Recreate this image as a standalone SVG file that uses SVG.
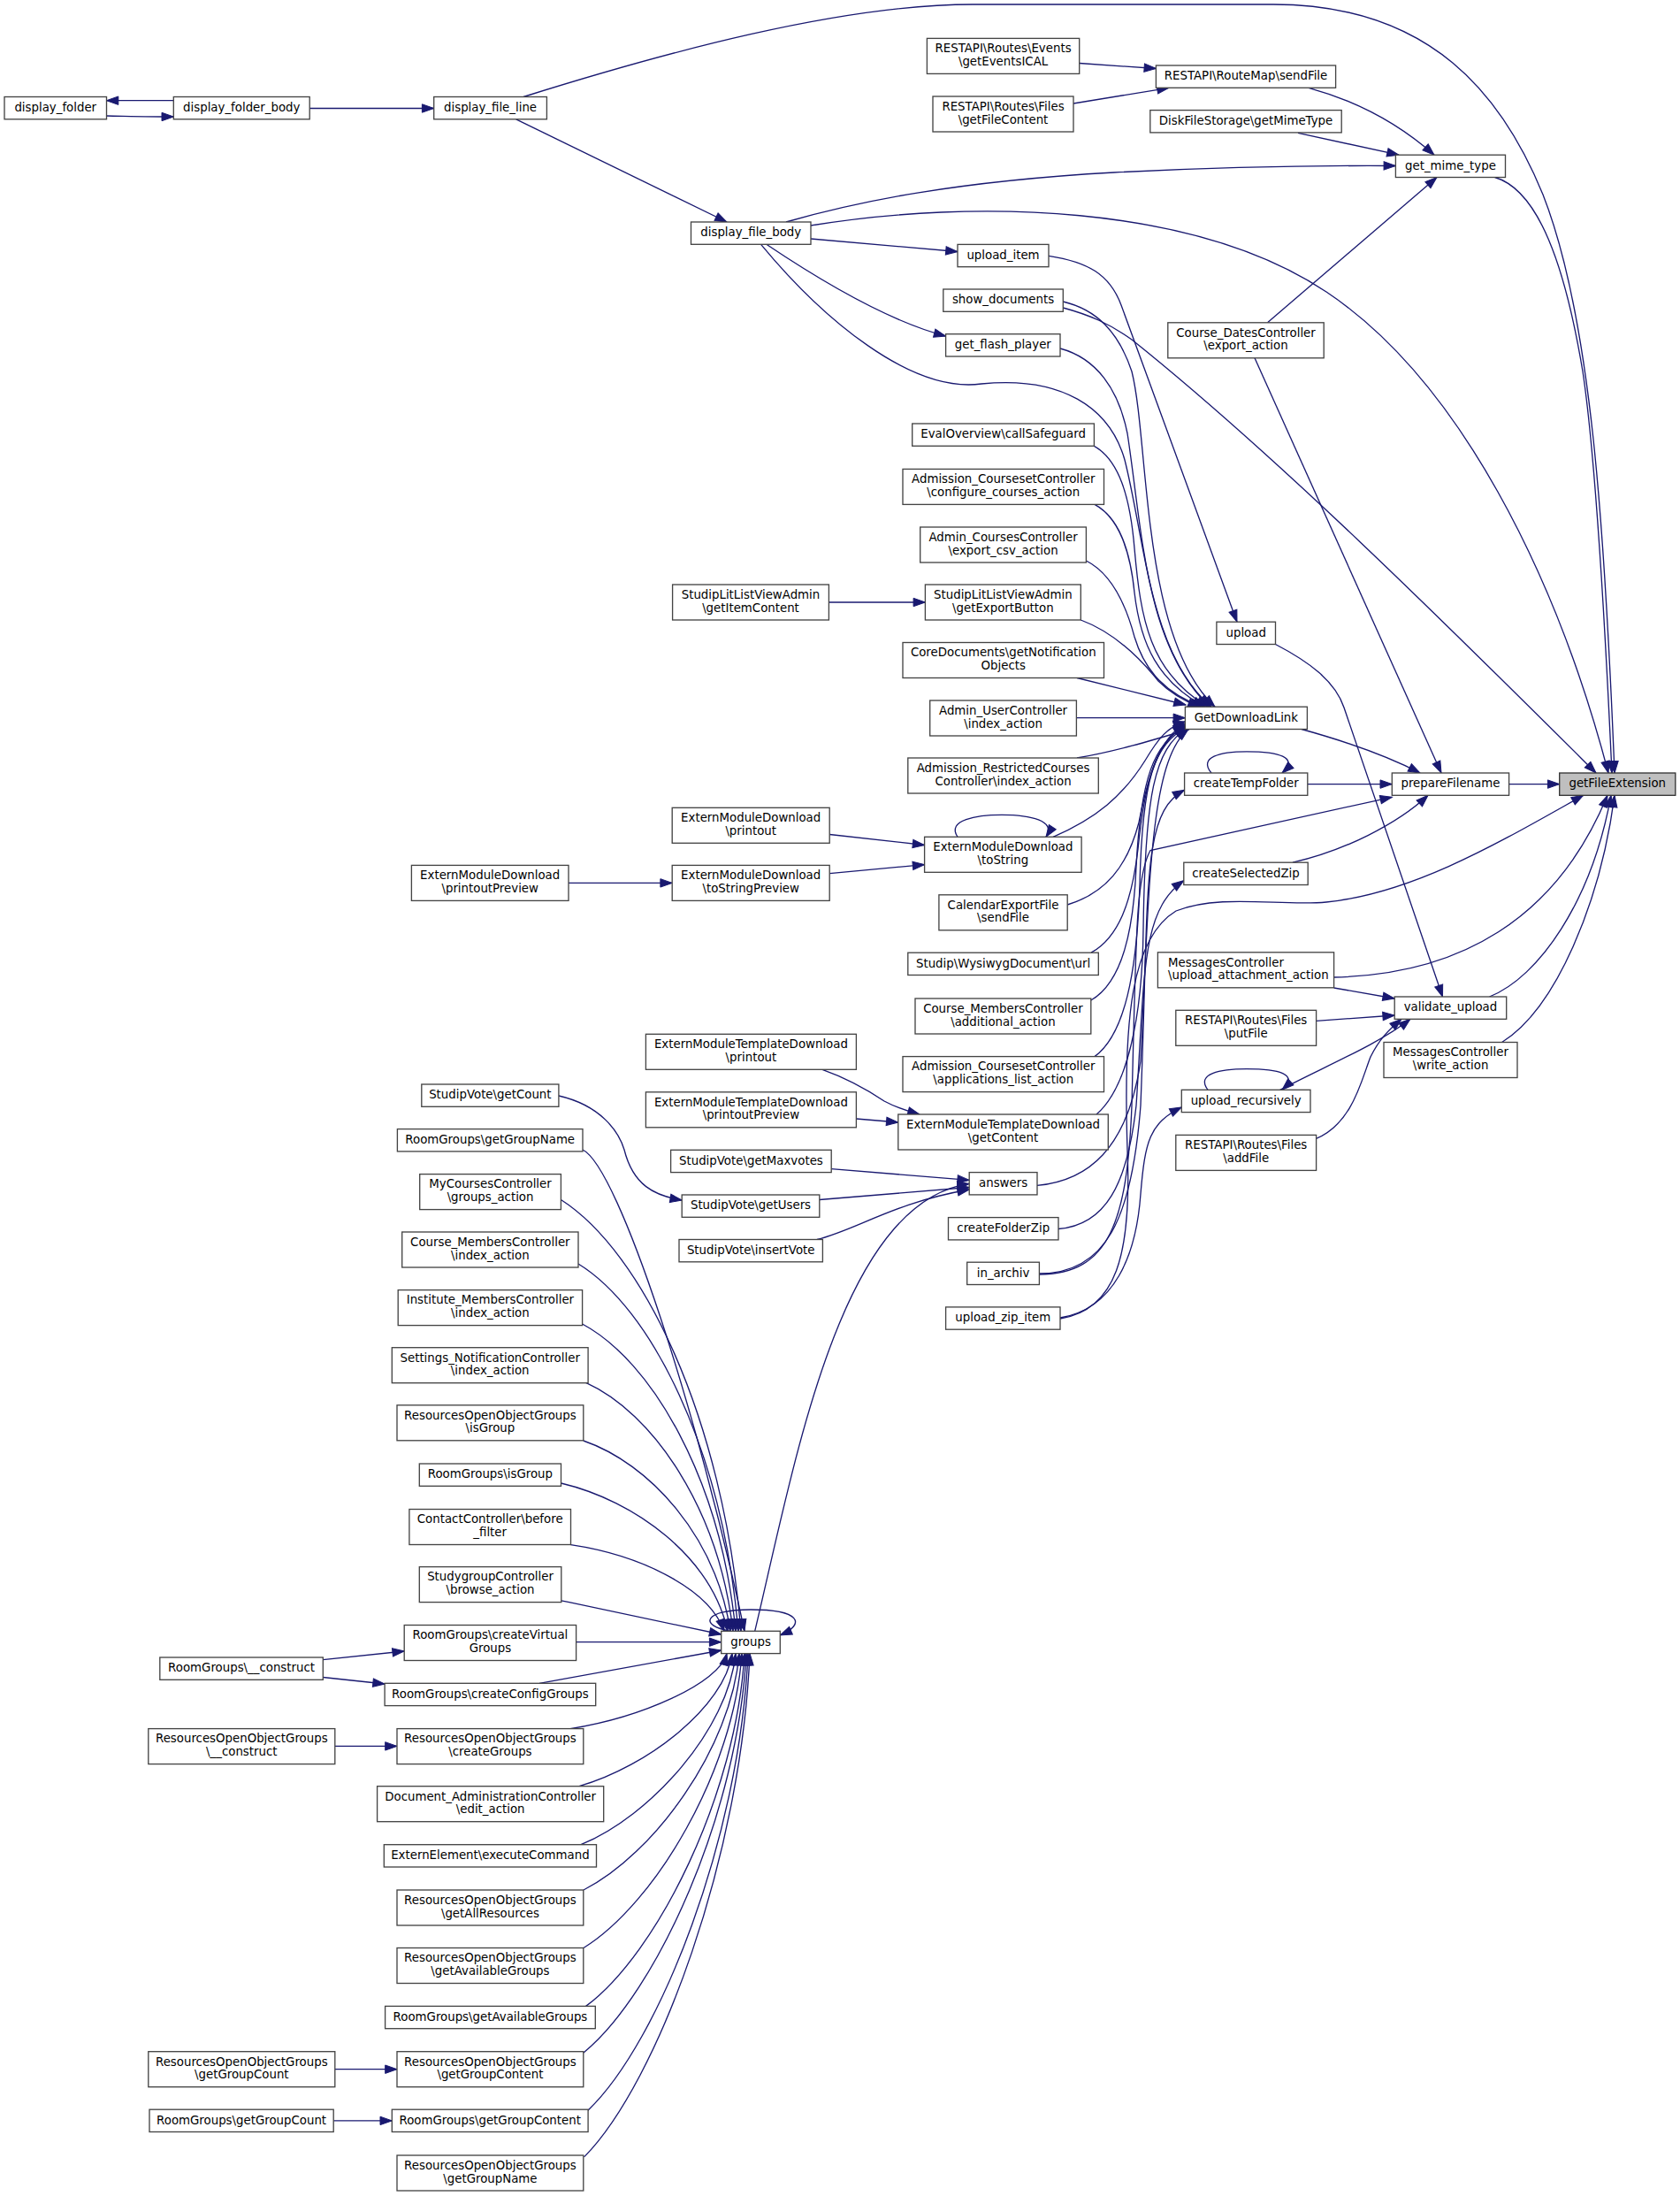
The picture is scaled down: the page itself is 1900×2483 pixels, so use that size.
<svg xmlns="http://www.w3.org/2000/svg" width="1900" height="2483" viewBox="0 0 1900 2483">
<defs>
<style>
.node rect{fill:#ffffff;stroke:#444444;stroke-width:1.33}
.node.root rect{fill:#bfbfbf;stroke:#333333}
.node text{font-family:"DejaVu Sans","Liberation Sans",sans-serif;font-size:13.33px;text-anchor:middle;fill:#000000}
.node text.l{text-anchor:start}
.edges path{fill:none;stroke:#191970;stroke-width:1.33;marker-end:url(#arr)}
</style>
<marker id="arr" markerUnits="userSpaceOnUse" markerWidth="14" markerHeight="10" viewBox="0 0 14 10" refX="13.3" refY="4.7" orient="auto" overflow="visible">
<path d="M0,0 L13.3,4.7 L0,9.4 z" fill="#191970" stroke="#191970" stroke-width="1"/>
</marker>
</defs>
<rect x="0" y="0" width="1900" height="2483" fill="#ffffff"/>
<g id="edges" class="edges">
<path d="M196.3,113.7 L120.5,113.7"/>
<path d="M120.5,131 C150,131.5 170,132 196.3,132"/>
<path d="M350.2,122.5 L490.7,122.5"/>
<path d="M583.7,134.8 L822,251"/>
<path d="M592,109.5 C750,60 950,5 1100,5 L1440,5 C1620,5 1700,110 1745,220 C1800,360 1815,600 1826,874"/>
<path d="M889,251 C970,228 1080,205 1260,195 C1400,188 1500,187 1578.4,187.5"/>
<path d="M917,255 C1100,225 1350,230 1500,330 C1650,430 1760,650 1819,874"/>
<path d="M917,270 L1083,284.5"/>
<path d="M866.8,276.3 C920,312 1000,362 1069.6,380"/>
<path d="M860.6,276.3 C930,360 1030,445 1110,434 C1200,425 1255,460 1272,520 C1295,610 1300,740 1370,799.2"/>
<path d="M1220.7,71.5 L1307.4,77.5"/>
<path d="M1214,117 L1322,99.3"/>
<path d="M1480,99.3 C1530,113 1580,138 1622,175.2"/>
<path d="M1468,150.3 L1582,175.2"/>
<path d="M1433.5,364.8 L1625,200.5"/>
<path d="M1690.6,200.5 C1740,215 1770,300 1790,420 C1805,520 1815,700 1823,874"/>
<path d="M1419,404.8 L1630,874"/>
<path d="M1202.3,348 C1232,356 1255,366 1280,384 C1450,520 1650,720 1805,874"/>
<path d="M1202.3,341 C1240,350 1265,375 1280,420 C1300,500 1290,720 1374,799.2"/>
<path d="M1186,289.3 C1230,296 1255,310 1268,345 L1399,703.2"/>
<path d="M1199,394 C1240,405 1265,440 1275,490 C1292,600 1295,730 1368,799.2"/>
<path d="M1237.4,504.3 C1265,520 1278,560 1283,620 C1290,700 1300,760 1366,799.2"/>
<path d="M1238,570.4 C1265,585 1278,620 1283,670 C1290,730 1310,770 1362,799.2"/>
<path d="M1228.4,634 C1260,650 1275,690 1283,720 C1295,760 1320,785 1360,799.2"/>
<path d="M937.4,681 L1046.4,681"/>
<path d="M1222.3,701 C1260,715 1290,745 1310,770 C1325,785 1340,793 1357,799.2"/>
<path d="M1218,766.5 L1341,797"/>
<path d="M1217.4,811.7 L1340.4,811.7"/>
<path d="M1218,857 C1260,850 1300,838 1345,824.5"/>
<path d="M1191,946.3 C1240,925 1270,900 1295,860 C1310,835 1320,822 1340.4,816"/>
<path d="M1083,946.3 C1070,927 1105,921.3 1133,921.3 C1165,921.3 1195,928 1183,946.3"/>
<path d="M938.2,943.5 L1045.6,955.5"/>
<path d="M938.2,987.6 L1045.6,977.6"/>
<path d="M643,998.4 L760.2,998.4"/>
<path d="M1207.2,1023 C1250,1010 1275,980 1288,930 C1298,880 1310,835 1340.4,818"/>
<path d="M1234,1077.2 C1265,1060 1280,1020 1287,960 C1295,880 1308,840 1340.4,820"/>
<path d="M1233.8,1131 C1270,1110 1282,1050 1285,980 C1290,880 1305,840 1341,821"/>
<path d="M1238,1194.6 C1272,1170 1286,1100 1289,1000 C1292,880 1305,842 1342,822.5"/>
<path d="M1240,1260 C1275,1230 1292,1150 1293,1050 C1295,900 1305,846 1343,823.5"/>
<path d="M930,1209.4 C960,1220 985,1235 1000,1245 C1013,1252 1025,1256 1040,1260"/>
<path d="M968.4,1265 L1015.8,1269"/>
<path d="M1173,1340.4 C1230,1335 1275,1300 1290,1200 C1300,1000 1300,860 1344,824.5"/>
<path d="M1197,1389.5 C1250,1385 1275,1340 1285,1250 C1295,1100 1290,1030 1338.8,995.7"/>
<path d="M1175.4,1440 C1250,1440 1280,1380 1290,1250 C1300,1000 1290,920 1339.6,893.2"/>
<path d="M1175.4,1441 C1255,1441 1275,1380 1280,1250 C1285,1050 1285,990 1301,961.5 L1574.3,901.3"/>
<path d="M1199,1490 C1260,1480 1285,1420 1290,1350 C1295,1290 1300,1270 1336.3,1252"/>
<path d="M1199,1491 C1262,1481 1280,1420 1275,1300 C1270,1150 1280,1060 1330,1030 C1380,1010 1450,1025 1500,1020 C1600,1010 1700,950 1790.6,899.3"/>
<path d="M940.2,1321.6 L1096.2,1334.4"/>
<path d="M926.8,1356.5 L1096.2,1342.5"/>
<path d="M924,1401.5 C970,1390 1010,1360 1096.2,1345"/>
<path d="M853.7,1844.3 C900,1650 950,1360 1096.2,1338.4"/>
<path d="M631.9,1239 C680,1250 700,1280 706,1300 C716,1340 740,1352 771.2,1357"/>
<path d="M826,1844.3 C790,1838 795,1820 849,1820 C905,1820 912,1836 882.3,1849"/>
<path d="M659,1300 C700,1320 790,1600 842,1844.3"/>
<path d="M634.4,1356.5 C726,1415 817.6,1600.4 838,1844.3"/>
<path d="M654,1429 C735.5,1478.8 816.9,1636.6 835,1844.3"/>
<path d="M658.6,1497 C736.6,1538.7 814.7,1670.6 832,1844.3"/>
<path d="M662.6,1563.4 C737.5,1597.1 812.4,1703.8 829,1844.3"/>
<path d="M659.8,1629 C734.6,1654.8 809.4,1736.6 826,1844.3"/>
<path d="M634.5,1677 C719.3,1697.1 804.2,1760.6 823,1844.3"/>
<path d="M645.5,1746.7 C723.6,1758.4 801.7,1795.5 819,1844.3"/>
<path d="M634.8,1809.8 C695,1822 755,1835 815.7,1848"/>
<path d="M651.6,1856.7 L815.7,1856.7"/>
<path d="M610,1903.3 C680,1890 750,1878 815.7,1866"/>
<path d="M645,1954.6 C724.7,1941.9 813.2,1903.6 822,1869.6"/>
<path d="M655,2019.7 C732.9,1997.2 819.4,1929.6 828,1869.6"/>
<path d="M657,2085.7 C735.8,2053.3 823.3,1956 832,1869.6"/>
<path d="M660,2137 C739.2,2096.9 827.2,1976.6 836,1869.6"/>
<path d="M660,2202.5 C740.6,2152.6 830,2002.8 839,1869.6"/>
<path d="M662.6,2268.4 C743.3,2208.6 833,2029.1 842,1869.6"/>
<path d="M660,2320.9 C742.8,2253.2 834.8,2050.1 844,1869.6"/>
<path d="M664.7,2386.4 C746.3,2308.9 836.9,2076.3 846,1869.6"/>
<path d="M660.6,2438.9 C744.9,2353.5 838.6,2097.3 848,1869.6"/>
<path d="M365.3,1876.7 L457.2,1867"/>
<path d="M365.3,1896.5 L435.1,1904"/>
<path d="M378.8,1974.4 L449,1974.4"/>
<path d="M378.8,2339.7 L449,2339.7"/>
<path d="M377.2,2397.9 L443.3,2397.9"/>
<path d="M1472,824.5 C1510,835 1560,850 1606,874"/>
<path d="M1478.8,886.6 L1574.3,886.6"/>
<path d="M1370,874 C1355,856 1380,849.8 1410,849.8 C1445,849.8 1470,856 1450,874"/>
<path d="M1706.6,886.6 L1763.7,886.6"/>
<path d="M1462,975.2 C1520,962 1580,932 1615,899.3"/>
<path d="M1442.5,728.5 C1480,748 1510,770 1520,800 L1631.5,1127"/>
<path d="M1684.5,1127 C1740,1105 1800,1020 1822,899.3"/>
<path d="M1508.6,1105 C1650,1102 1760,1040 1818,899.3"/>
<path d="M1698.6,1178.5 C1760,1140 1810,1020 1826,899.3"/>
<path d="M1508.6,1117 L1577.2,1129"/>
<path d="M1488.6,1154.4 L1577.2,1148"/>
<path d="M1447.7,1232.3 C1500,1205 1560,1180 1595,1152.3"/>
<path d="M1488.6,1287.4 C1530,1270 1540,1220 1550,1195 C1560,1175 1570,1165 1585,1152.3"/>
<path d="M1366,1232.3 C1352,1214 1380,1208.6 1410,1208.6 C1445,1208.6 1470,1214 1450,1232.3"/>
</g>
<g id="n1" class="node"><rect x="5" y="109.5" width="115.5" height="25.3"/><text x="62.75" y="125.9">display_folder</text></g>
<g id="n2" class="node"><rect x="196.3" y="109.5" width="153.9" height="25.3"/><text x="273.25" y="125.9">display_folder_body</text></g>
<g id="n3" class="node"><rect x="490.7" y="109.5" width="127.7" height="25.3"/><text x="554.55" y="125.9">display_file_line</text></g>
<g id="n4" class="node"><rect x="781.5" y="251" width="135.5" height="25.3"/><text x="849.25" y="267.4">display_file_body</text></g>
<g id="n5" class="node"><rect x="1048.4" y="43.4" width="172.3" height="40"/><text x="1134.55" y="59.2">RESTAPI\Routes\Events</text><text x="1134.55" y="73.9">\getEventsICAL</text></g>
<g id="n6" class="node"><rect x="1055" y="109" width="159" height="40"/><text x="1134.5" y="124.8">RESTAPI\Routes\Files</text><text x="1134.5" y="139.5">\getFileContent</text></g>
<g id="n7" class="node"><rect x="1307.4" y="74" width="203.2" height="25.3"/><text x="1409" y="90.4">RESTAPI\RouteMap\sendFile</text></g>
<g id="n8" class="node"><rect x="1300.8" y="124.6" width="216.4" height="25.3"/><text x="1409" y="141">DiskFileStorage\getMimeType</text></g>
<g id="n9" class="node"><rect x="1578.4" y="175.2" width="124.1" height="25.3"/><text x="1640.45" y="191.6">get_mime_type</text></g>
<g id="n10" class="node"><rect x="1083" y="276.4" width="103" height="25.3"/><text x="1134.5" y="292.8">upload_item</text></g>
<g id="n11" class="node"><rect x="1066.8" y="327" width="135.5" height="25.3"/><text x="1134.55" y="343.4">show_documents</text></g>
<g id="n12" class="node"><rect x="1069.6" y="377.7" width="129.4" height="25.3"/><text x="1134.3" y="394.1">get_flash_player</text></g>
<g id="n13" class="node"><rect x="1320.8" y="364.8" width="176.4" height="40"/><text x="1409" y="380.6">Course_DatesController</text><text x="1409" y="395.3">\export_action</text></g>
<g id="n14" class="node"><rect x="1031.7" y="479" width="205.7" height="25.3"/><text x="1134.55" y="495.4">EvalOverview\callSafeguard</text></g>
<g id="n15" class="node"><rect x="1021" y="530.4" width="227.5" height="40"/><text x="1134.75" y="546.2">Admission_CoursesetController</text><text x="1134.75" y="560.9">\configure_courses_action</text></g>
<g id="n16" class="node"><rect x="1040.7" y="596" width="187.7" height="40"/><text x="1134.55" y="611.8">Admin_CoursesController</text><text x="1134.55" y="626.5">\export_csv_action</text></g>
<g id="n17" class="node"><rect x="760.6" y="661" width="176.8" height="40"/><text x="849" y="676.8">StudipLitListViewAdmin</text><text x="849" y="691.5">\getItemContent</text></g>
<g id="n18" class="node"><rect x="1046.4" y="661" width="175.9" height="40"/><text x="1134.35" y="676.8">StudipLitListViewAdmin</text><text x="1134.35" y="691.5">\getExportButton</text></g>
<g id="n19" class="node"><rect x="1375.9" y="703.2" width="66.6" height="25.3"/><text x="1409.2" y="719.6">upload</text></g>
<g id="n20" class="node"><rect x="1021" y="726.5" width="227.5" height="40"/><text x="1134.75" y="742.3">CoreDocuments\getNotification</text><text x="1134.75" y="757">Objects</text></g>
<g id="n21" class="node"><rect x="1051.7" y="792" width="165.7" height="40"/><text x="1134.55" y="807.8">Admin_UserController</text><text x="1134.55" y="822.5">\index_action</text></g>
<g id="n22" class="node"><rect x="1340.4" y="799.2" width="138" height="25.3"/><text x="1409.4" y="815.6">GetDownloadLink</text></g>
<g id="n23" class="node"><rect x="1026.8" y="857" width="215.5" height="40"/><text x="1134.55" y="872.8">Admission_RestrictedCourses</text><text x="1134.55" y="887.5">Controller\index_action</text></g>
<g id="n24" class="node"><rect x="1339.6" y="874" width="139.2" height="25.3"/><text x="1409.2" y="890.4">createTempFolder</text></g>
<g id="n25" class="node"><rect x="1574.3" y="874" width="132.3" height="25.3"/><text x="1640.45" y="890.4">prepareFilename</text></g>
<g id="n26" class="node root"><rect x="1763.7" y="874" width="131.1" height="25.3"/><text x="1829.25" y="890.4">getFileExtension</text></g>
<g id="n27" class="node"><rect x="760.2" y="913.3" width="178" height="40"/><text x="849.2" y="929.1">ExternModuleDownload</text><text x="849.2" y="943.8">\printout</text></g>
<g id="n28" class="node"><rect x="1045.6" y="946.3" width="177.5" height="40"/><text x="1134.35" y="962.1">ExternModuleDownload</text><text x="1134.35" y="976.8">\toString</text></g>
<g id="n29" class="node"><rect x="1338.8" y="975.2" width="140.4" height="25.3"/><text x="1409" y="991.6">createSelectedZip</text></g>
<g id="n30" class="node"><rect x="465.4" y="978.4" width="177.6" height="40"/><text x="554.2" y="994.2">ExternModuleDownload</text><text x="554.2" y="1008.9">\printoutPreview</text></g>
<g id="n31" class="node"><rect x="760.2" y="978.4" width="178" height="40"/><text x="849.2" y="994.2">ExternModuleDownload</text><text x="849.2" y="1008.9">\toStringPreview</text></g>
<g id="n32" class="node"><rect x="1061.9" y="1011.8" width="145.3" height="40"/><text x="1134.55" y="1027.6">CalendarExportFile</text><text x="1134.55" y="1042.3">\sendFile</text></g>
<g id="n33" class="node"><rect x="1309.4" y="1076.8" width="199.2" height="40"/><text class="l" x="1321" y="1092.6">MessagesController</text><text class="l" x="1321" y="1107.3">\upload_attachment_action</text></g>
<g id="n34" class="node"><rect x="1026.8" y="1077.2" width="215.5" height="25.3"/><text x="1134.55" y="1093.6">Studip\WysiwygDocument\url</text></g>
<g id="n35" class="node"><rect x="1577.2" y="1127" width="126.5" height="25.3"/><text x="1640.45" y="1143.4">validate_upload</text></g>
<g id="n36" class="node"><rect x="1035" y="1129" width="198.8" height="40"/><text x="1134.4" y="1144.8">Course_MembersController</text><text x="1134.4" y="1159.5">\additional_action</text></g>
<g id="n37" class="node"><rect x="1329.8" y="1142.3" width="158.8" height="40"/><text x="1409.2" y="1158.1">RESTAPI\Routes\Files</text><text x="1409.2" y="1172.8">\putFile</text></g>
<g id="n38" class="node"><rect x="730.4" y="1169.3" width="238" height="40"/><text x="849.4" y="1185.1">ExternModuleTemplateDownload</text><text x="849.4" y="1199.8">\printout</text></g>
<g id="n39" class="node"><rect x="1565" y="1178.5" width="151" height="40"/><text x="1640.5" y="1194.3">MessagesController</text><text x="1640.5" y="1209">\write_action</text></g>
<g id="n40" class="node"><rect x="1021" y="1194.6" width="227.5" height="40"/><text x="1134.75" y="1210.4">Admission_CoursesetController</text><text x="1134.75" y="1225.1">\applications_list_action</text></g>
<g id="n41" class="node"><rect x="476.8" y="1226" width="155.1" height="25.3"/><text x="554.35" y="1242.4">StudipVote\getCount</text></g>
<g id="n42" class="node"><rect x="1336.3" y="1232.3" width="145.7" height="25.3"/><text x="1409.15" y="1248.7">upload_recursively</text></g>
<g id="n43" class="node"><rect x="730.4" y="1234.8" width="238" height="40"/><text x="849.4" y="1250.6">ExternModuleTemplateDownload</text><text x="849.4" y="1265.3">\printoutPreview</text></g>
<g id="n44" class="node"><rect x="1015.8" y="1260" width="237.5" height="40"/><text x="1134.55" y="1275.8">ExternModuleTemplateDownload</text><text x="1134.55" y="1290.5">\getContent</text></g>
<g id="n45" class="node"><rect x="449.4" y="1276.6" width="209.6" height="25.3"/><text x="554.2" y="1293">RoomGroups\getGroupName</text></g>
<g id="n46" class="node"><rect x="1329.8" y="1283.4" width="158.8" height="40"/><text x="1409.2" y="1299.2">RESTAPI\Routes\Files</text><text x="1409.2" y="1313.9">\addFile</text></g>
<g id="n47" class="node"><rect x="758.6" y="1300.3" width="181.6" height="25.3"/><text x="849.4" y="1316.7">StudipVote\getMaxvotes</text></g>
<g id="n48" class="node"><rect x="1096.2" y="1325.6" width="76.8" height="25.3"/><text x="1134.6" y="1342">answers</text></g>
<g id="n49" class="node"><rect x="474.7" y="1327.6" width="159.7" height="40"/><text x="554.55" y="1343.4">MyCoursesController</text><text x="554.55" y="1358.1">\groups_action</text></g>
<g id="n50" class="node"><rect x="771.2" y="1351" width="155.6" height="25.3"/><text x="849" y="1367.4">StudipVote\getUsers</text></g>
<g id="n51" class="node"><rect x="1072.5" y="1376.6" width="124.5" height="25.3"/><text x="1134.75" y="1393">createFolderZip</text></g>
<g id="n52" class="node"><rect x="454.7" y="1393" width="199.3" height="40"/><text x="554.35" y="1408.8">Course_MembersController</text><text x="554.35" y="1423.5">\index_action</text></g>
<g id="n53" class="node"><rect x="768" y="1401.5" width="162.4" height="25.3"/><text x="849.2" y="1417.9">StudipVote\insertVote</text></g>
<g id="n54" class="node"><rect x="1093.7" y="1427.2" width="81.7" height="25.3"/><text x="1134.55" y="1443.6">in_archiv</text></g>
<g id="n55" class="node"><rect x="450.2" y="1458.6" width="208.4" height="40"/><text x="554.4" y="1474.4">Institute_MembersController</text><text x="554.4" y="1489.1">\index_action</text></g>
<g id="n56" class="node"><rect x="1069.6" y="1477.9" width="129.4" height="25.3"/><text x="1134.3" y="1494.3">upload_zip_item</text></g>
<g id="n57" class="node"><rect x="443.3" y="1523.7" width="221.8" height="40"/><text x="554.2" y="1539.5">Settings_NotificationController</text><text x="554.2" y="1554.2">\index_action</text></g>
<g id="n58" class="node"><rect x="449" y="1588.8" width="210.8" height="40"/><text x="554.4" y="1604.6">ResourcesOpenObjectGroups</text><text x="554.4" y="1619.3">\isGroup</text></g>
<g id="n59" class="node"><rect x="474.3" y="1655" width="160.2" height="25.3"/><text x="554.4" y="1671.4">RoomGroups\isGroup</text></g>
<g id="n60" class="node"><rect x="462.9" y="1706.5" width="182.6" height="40"/><text x="554.2" y="1722.3">ContactController\before</text><text x="554.2" y="1737">_filter</text></g>
<g id="n61" class="node"><rect x="474.3" y="1771.6" width="160.5" height="40"/><text x="554.55" y="1787.4">StudygroupController</text><text x="554.55" y="1802.1">\browse_action</text></g>
<g id="n62" class="node"><rect x="457.2" y="1837.5" width="194.4" height="40"/><text x="554.4" y="1853.3">RoomGroups\createVirtual</text><text x="554.4" y="1868">Groups</text></g>
<g id="n63" class="node"><rect x="815.7" y="1844.3" width="66.6" height="25.3"/><text x="849" y="1860.7">groups</text></g>
<g id="n64" class="node"><rect x="180.8" y="1874" width="184.5" height="25.3"/><text x="273.05" y="1890.4">RoomGroups\__construct</text></g>
<g id="n65" class="node"><rect x="435.1" y="1903.3" width="238.6" height="25.3"/><text x="554.4" y="1919.7">RoomGroups\createConfigGroups</text></g>
<g id="n66" class="node"><rect x="167.8" y="1954.6" width="211" height="40"/><text x="273.3" y="1970.4">ResourcesOpenObjectGroups</text><text x="273.3" y="1985.1">\__construct</text></g>
<g id="n67" class="node"><rect x="449" y="1954.6" width="210.8" height="40"/><text x="554.4" y="1970.4">ResourcesOpenObjectGroups</text><text x="554.4" y="1985.1">\createGroups</text></g>
<g id="n68" class="node"><rect x="426.6" y="2019.7" width="256.1" height="40"/><text x="554.65" y="2035.5">Document_AdministrationController</text><text x="554.65" y="2050.2">\edit_action</text></g>
<g id="n69" class="node"><rect x="434.3" y="2085.7" width="240.2" height="25.3"/><text x="554.4" y="2102.1">ExternElement\executeCommand</text></g>
<g id="n70" class="node"><rect x="449" y="2137" width="210.8" height="40"/><text x="554.4" y="2152.8">ResourcesOpenObjectGroups</text><text x="554.4" y="2167.5">\getAllResources</text></g>
<g id="n71" class="node"><rect x="449" y="2202.5" width="210.8" height="40"/><text x="554.4" y="2218.3">ResourcesOpenObjectGroups</text><text x="554.4" y="2233">\getAvailableGroups</text></g>
<g id="n72" class="node"><rect x="435.6" y="2268.4" width="237.7" height="25.3"/><text x="554.45" y="2284.8">RoomGroups\getAvailableGroups</text></g>
<g id="n73" class="node"><rect x="167.8" y="2319.7" width="211" height="40"/><text x="273.3" y="2335.5">ResourcesOpenObjectGroups</text><text x="273.3" y="2350.2">\getGroupCount</text></g>
<g id="n74" class="node"><rect x="449" y="2319.7" width="210.8" height="40"/><text x="554.4" y="2335.5">ResourcesOpenObjectGroups</text><text x="554.4" y="2350.2">\getGroupContent</text></g>
<g id="n75" class="node"><rect x="169" y="2385.2" width="208.2" height="25.3"/><text x="273.1" y="2401.6">RoomGroups\getGroupCount</text></g>
<g id="n76" class="node"><rect x="443.3" y="2385.2" width="221.8" height="25.3"/><text x="554.2" y="2401.6">RoomGroups\getGroupContent</text></g>
<g id="n77" class="node"><rect x="449" y="2437" width="210.8" height="40"/><text x="554.4" y="2452.8">ResourcesOpenObjectGroups</text><text x="554.4" y="2467.5">\getGroupName</text></g>
</svg>
